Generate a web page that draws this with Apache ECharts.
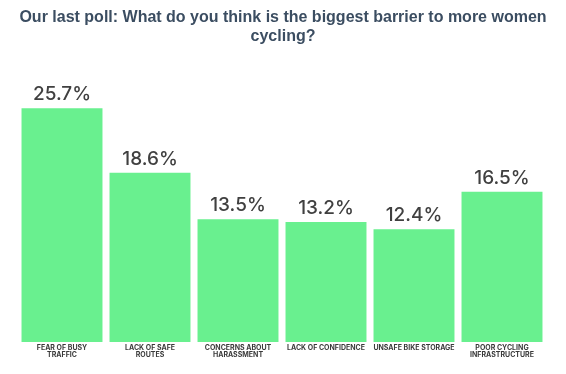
<!DOCTYPE html>
<html><head><meta charset="utf-8">
<script src="https://cdn.jsdelivr.net/npm/echarts@6/dist/echarts.min.js"></script>
<style>html,body{margin:0;padding:0;background:#fff}#c{width:566px;height:374px}</style>
</head><body><div id="c"></div>
<script>
const categories = ['FEAR OF BUSY\nTRAFFIC','LACK OF SAFE\nROUTES','CONCERNS ABOUT\nHARASSMENT','LACK OF CONFIDENCE','UNSAFE BIKE STORAGE','POOR CYCLING\nINFRASTRUCTURE'];
const values = [25.7, 18.6, 13.5, 13.2, 12.4, 16.5];
const titleText = 'Our last poll: What do you think is the biggest barrier to more women\ncycling?';
const chart = echarts.init(document.getElementById('c'));
chart.setOption({
  animation:false,
  title:{text:titleText,left:'center',top:3,textStyle:{fontFamily:'Liberation Sans',fontSize:16,fontWeight:'bold',color:'#3b4d61',lineHeight:19}},
  grid:{left:18,right:20,top:69,bottom:32},
  xAxis:{type:'category',data:categories,axisLine:{show:false},axisTick:{show:false},
    axisLabel:{interval:0,margin:2,fontFamily:'Inter',fontSize:7,fontWeight:'bold',color:'#3a3a3a',lineHeight:7.5}},
  yAxis:{type:'value',min:0,max:30,show:false,splitLine:{show:false}},
  series:[{type:'bar',data:values,barCategoryGap:'8%',itemStyle:{color:'#69f08f'},
    label:{show:true,position:'top',distance:4,formatter:p=>p.value.toFixed(1)+'%',fontFamily:'Inter',fontSize:19,fontWeight:500,color:'#404040'}}]
});
</script></body></html>
